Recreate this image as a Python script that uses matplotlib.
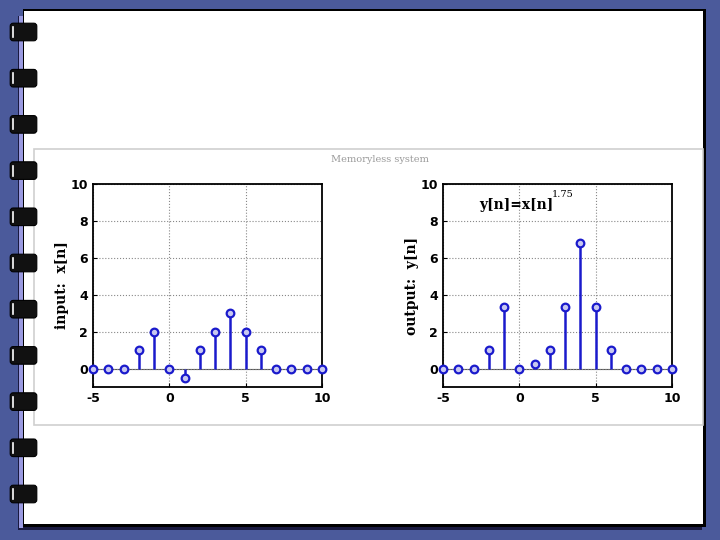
import numpy as np
import matplotlib
matplotlib.use("Agg")
import matplotlib.pyplot as plt
from matplotlib.patches import Rectangle, FancyBboxPatch

plt.rcParams["axes.unicode_minus"] = False

# data
n = np.arange(-5, 11)
x_in = [0, 0, 0, 1, 2, 0, -0.5, 1, 2, 3, 2, 1, 0, 0, 0, 0]
y_out = [0, 0, 0, 1, 3.35, 0, 0.25, 1, 3.35, 6.8, 3.35, 1, 0, 0, 0, 0]
xticks = [-5, 0, 5, 10]
yticks = [0, 2, 4, 6, 8, 10]

bg_blue = "#4b5a9b"
stem_blue = "#1a1acc"

fig = plt.figure(figsize=(7.2, 5.4), dpi=100)
fig.patch.set_facecolor(bg_blue)

# slide background drawn in pixel coords
bg = fig.add_axes([0, 0, 1, 1])
bg.set_xlim(0, 720)
bg.set_ylim(540, 0)
bg.axis("off")

# page shadow / left stripe
bg.add_patch(Rectangle((18, 16), 684, 514, facecolor="#1a1a40", edgecolor="none"))
bg.add_patch(Rectangle((19, 16), 4, 512, facecolor="#9a9ae0", edgecolor="none"))
# page
bg.add_patch(Rectangle((23, 9), 683, 518, facecolor="black", edgecolor="none"))
bg.add_patch(Rectangle((24, 11), 679, 513, facecolor="white", edgecolor="none"))

# matlab figure panel
bg.add_patch(Rectangle((34, 149), 669, 276, facecolor="white", edgecolor="#cfcfcf", lw=1.2))
bg.text(380, 160, "Memoryless system", ha="center", va="center", fontsize=7,
        color="#9a9a9a", family="DejaVu Serif")

# binding rings
for yc in np.linspace(32, 494, 11):
    bg.add_patch(FancyBboxPatch((11, yc - 8), 25, 16, boxstyle="round,pad=0.8,rounding_size=3",
                                facecolor="#111111", edgecolor="black", lw=0.8))
    bg.plot([12.5, 12.5], [yc - 5, yc + 5], color="white", lw=1.2)


def stem_panel(ax, vals, label):
    ax.set_xlim(-5, 10)
    ax.set_ylim(-1, 10)
    ax.axhline(0, color="#555555", lw=0.8, zorder=1)
    ml, sl, bl = ax.stem(n, vals, basefmt=" ")
    plt.setp(sl, color=stem_blue, lw=1.8)
    plt.setp(ml, marker="o", markersize=5.5, markerfacecolor="#c8c8f0",
             markeredgecolor=stem_blue, markeredgewidth=1.6, clip_on=False, zorder=4)
    ax.set_xticks(xticks)
    ax.set_yticks(yticks)
    ax.grid(True, linestyle=":", color="#888888", lw=0.8)
    ax.tick_params(direction="in", length=3, labelsize=9, width=0.8)
    for t in ax.get_xticklabels() + ax.get_yticklabels():
        t.set_fontweight("bold")
    for s in ax.spines.values():
        s.set_linewidth(1.3)
    ax.set_ylabel(label, fontsize=10, fontweight="bold", family="DejaVu Serif", labelpad=1)


ax1 = fig.add_axes([0.1292, 0.2833, 0.318, 0.376])
stem_panel(ax1, x_in, "input:  x[n]")

ax2 = fig.add_axes([0.6153, 0.2833, 0.318, 0.376])
stem_panel(ax2, y_out, "output:  y[n]")
ax2.text(-2.6, 8.85, "y[n]=x[n]", fontsize=10, fontweight="bold", family="DejaVu Serif", va="center")
ax2.text(2.1, 9.45, "1.75", fontsize=7, family="DejaVu Serif", va="center")

fig.savefig("out.png", dpi=100, facecolor=fig.get_facecolor())
